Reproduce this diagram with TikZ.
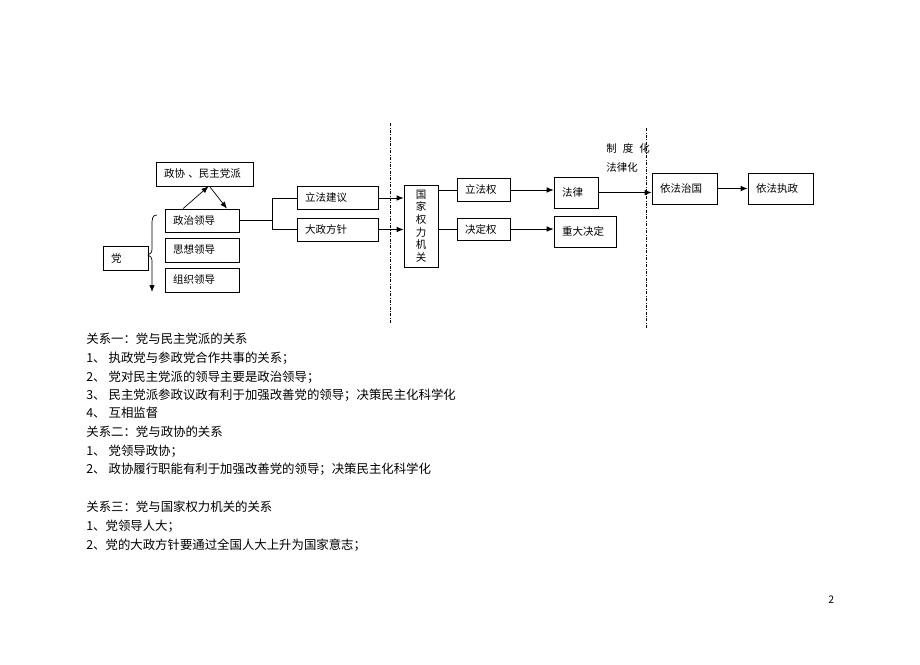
\documentclass[tikz,border=0pt]{standalone}
\usepackage{fontspec}
\newfontfamily\cjk{Noto Sans CJK SC}
\usepackage{tikz}
\usetikzlibrary{arrows.meta}

\begin{document}
\begin{tikzpicture}[x=1pt,y=-1pt,
  box/.style={draw,line width=0.7pt,inner xsep=8pt,inner ysep=0pt,align=left,font=\cjk\fontsize{10.5}{12}\selectfont},
  vbox/.style={draw,line width=0.7pt,inner sep=0pt,align=center,font=\cjk\fontsize{10.5}{12.6}\selectfont},
  note/.style={anchor=west,inner sep=0pt,font=\cjk\fontsize{10.5}{12}\selectfont},
  para/.style={anchor=west,inner sep=0pt,font=\cjk\fontsize{12.4}{14}\selectfont},
  sep/.style={line width=0.8pt,dash pattern=on 3pt off 1.5pt on 0.8pt off 1.5pt},
  arr/.style={-{Latex[length=7pt,width=5.5pt]}},
  line width=0.7pt]
\useasboundingbox (0,0) rectangle (920,664);
% left part
\node[box,text width=81pt,minimum height=24pt] (zx) at (204.5,174) {政协 、民主党派};
\node[box,text width=58pt,minimum height=23pt] (zz) at (202,220.5) {政治领导};
\node[box,text width=58pt,minimum height=24pt] (sx) at (202,250) {思想领导};
\node[box,text width=58pt,minimum height=24pt] (zhz) at (202,280) {组织领导};
\node[box,text width=29pt,minimum height=24pt] (dang) at (125.5,258) {党};
\draw[arr] ([xshift=-19pt]zz.north) -- ([xshift=4pt]zx.south);
\draw[arr] ([xshift=5pt]zx.south) -- ([xshift=25pt]zz.north);
\draw[arr] (157,215) .. controls (152,215) and (152,219) .. (152,226) -- (152,249)
  .. controls (152,253) and (150,254) .. (148,255) .. controls (150,256) and (152,257) .. (152,261) -- (152,292);
% middle part
\node[box,text width=65pt,minimum height=23pt] (lfjy) at (337.5,198) {立法建议};
\node[box,text width=65pt,minimum height=23pt] (dzfz) at (337.5,229.5) {大政方针};
\coordinate (forktop) at (272,198);
\coordinate (forkbot) at (272,229.5);
\draw (zz.east) -- (zz.east -| forktop);
\draw (forktop) -- (forkbot);
\draw (forktop) -- (lfjy.west);
\draw (forkbot) -- (dzfz.west);
\node[vbox,minimum width=34pt,minimum height=82pt] (gj) at (421,226) {国\\家\\权\\力\\机\\关};
\draw[arr] (lfjy.east) -- (gj.west |- lfjy.east);
\draw[arr] (dzfz.east) -- (gj.west |- dzfz.east);
\draw[sep] (390,123) -- (390,323);
% right part
\node[box,text width=37pt,minimum height=23pt] (lfq) at (483.5,190) {立法权};
\node[box,text width=37pt,minimum height=22pt] (jdq) at (483.5,229) {决定权};
\draw (gj.east |- lfq.west) -- (lfq.west);
\draw (gj.east |- jdq.west) -- (jdq.west);
\node[box,text width=28pt,minimum height=31pt] (fl) at (576,192.5) {法律};
\node[box,text width=46pt,minimum height=31pt] (zdjd) at (585,231.5) {重大决定};
\draw[arr] (lfq.east) -- (fl.west |- lfq.east);
\draw[arr] (jdq.east) -- (zdjd.west |- jdq.east);
\node[box,text width=49pt,minimum height=31pt] (yfzg) at (684.5,188.5) {依法治国};
\node[box,text width=49pt,minimum height=31pt] (yfzz) at (780.5,188.5) {依法执政};
\draw[arr] (fl.east) -- (yfzg.west |- fl.east);
\draw[arr] (yfzg.east) -- (yfzz.west);
\draw[sep] (646,128) -- (646,328);
\node[note] (zdh) at (606,148) {制\hspace{6pt}度\hspace{6pt}化};
\node[note] (flh) at (606,168) {法律化};
% text below
\node[para] (gx1) at (86,339) {关系一：党与民主党派的关系};
\node[para] (gx1a) at (86,358) {1、\hspace{3pt}执政党与参政党合作共事的关系；};
\node[para] (gx1b) at (86,377) {2、\hspace{3pt}党对民主党派的领导主要是政治领导；};
\node[para] (gx1c) at (86,395) {3、\hspace{3pt}民主党派参政议政有利于加强改善党的领导；决策民主化科学化};
\node[para] (gx1d) at (86,413) {4、\hspace{3pt}互相监督};
\node[para] (gx2) at (86,432) {关系二：党与政协的关系};
\node[para] (gx2a) at (86,451) {1、\hspace{3pt}党领导政协；};
\node[para] (gx2b) at (86,469) {2、\hspace{3pt}政协履行职能有利于加强改善党的领导；决策民主化科学化};
\node[para] (gx3) at (86,507) {关系三：党与国家权力机关的关系};
\node[para] (gx3a) at (86,526) {1、党领导人大；};
\node[para] (gx3b) at (86,545) {2、党的大政方针要通过全国人大上升为国家意志；};
\node[note] (pg) at (828,600) {2};
\end{tikzpicture}
\end{document}
